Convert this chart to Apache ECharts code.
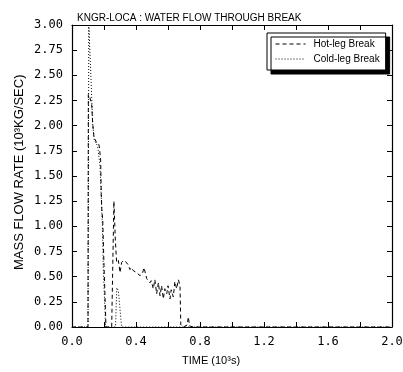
<!DOCTYPE html>
<html>
<head>
<meta charset="utf-8">
<script src="https://cdn.jsdelivr.net/npm/echarts@6/dist/echarts.min.js"></script>
<style>
  html, body { margin: 0; padding: 0; background: #fff; }
  #chart { width: 403px; height: 372px; }
</style>
</head>
<body>
<div id="chart"></div>
<script>
// KNGR-LOCA : water flow through break
const hotTime = [0, 0.1, 0.102, 0.112, 0.123, 0.129, 0.137, 0.15, 0.165, 0.171, 0.179, 0.183, 0.187, 0.192, 0.2, 0.2125,
  0.248, 0.262, 0.271, 0.279, 0.29, 0.3, 0.31, 0.321, 0.335, 0.35, 0.3625, 0.37, 0.383, 0.404, 0.425, 0.44, 0.45,
  0.467, 0.475, 0.4875, 0.495, 0.508, 0.518, 0.529, 0.54, 0.55, 0.56, 0.571, 0.58, 0.592, 0.6, 0.6125, 0.62, 0.633,
  0.643, 0.654, 0.665, 0.675, 0.68, 0.696, 0.72, 0.727, 0.735, 0.758, 2.0];
const hotFlow = [0, 0, 2.31, 2.28, 2.21, 2.03, 1.89, 1.84, 1.83, 1.79, 1.66, 1.32, 1.14, 1.07, 0.61, 0,
  0, 1.25, 0.86, 0.64, 0.66, 0.54, 0.64, 0.66, 0.65, 0.62, 0.57, 0.59, 0.56, 0.54, 0.51, 0.53, 0.59,
  0.48, 0.49, 0.44, 0.46, 0.38, 0.47, 0.33, 0.44, 0.31, 0.41, 0.28, 0.38, 0.33, 0.41, 0.28, 0.37, 0.30,
  0.45, 0.38, 0.47, 0.41, 0.02, 0, 0.02, 0.1, 0.01, 0, 0];

const coldTime = [0, 0.1, 0.105, 0.113, 0.118, 0.125, 0.13, 0.14, 0.16, 0.175, 0.185, 0.19, 0.195, 0.21,
  0.272, 0.28, 0.29, 0.31, 2.0];
const coldFlow = [0, 0, 3.0, 3.0, 2.5, 2.2, 2.0, 1.85, 1.8, 1.6, 1.2, 1.0, 0.6, 0,
  0, 0.39, 0.36, 0, 0];

const yTicks = { min: 0, max: 3, step: 0.25 };
const xTicks = { min: 0, max: 2, step: 0.2 };

const chart = echarts.init(document.getElementById('chart'));

const sans = "'Liberation Sans', Arial, sans-serif";
const mono = "'DejaVu Sans Mono', monospace";

const axisBase = {
  axisLine: { show: true, onZero: false, lineStyle: { color: '#000', width: 1.2 } },
  axisTick: { show: true, inside: true, length: 5, lineStyle: { color: '#000', width: 1 } },
  splitLine: { show: false }
};

chart.setOption({
  animation: false,
  backgroundColor: '#fff',
  title: {
    text: 'KNGR-LOCA : WATER FLOW THROUGH BREAK',
    left: 72, top: 8,
    textStyle: { fontFamily: sans, fontSize: 10, fontWeight: 'normal', color: '#000' }
  },
  grid: { left: 72, right: 11, top: 25, bottom: 45, outerBoundsMode: 'none' },
  legend: {
    orient: 'vertical',
    left: 267, top: 33,
    padding: [6, 6, 6, 8],
    itemGap: 5,
    itemWidth: 30, itemHeight: 10,
    itemStyle: { opacity: 0 },
    lineStyle: { width: 1 },
    backgroundColor: '#fff',
    borderColor: '#000', borderWidth: 1,
    shadowColor: '#000', shadowBlur: 0, shadowOffsetX: 4, shadowOffsetY: 4,
    textStyle: { fontFamily: sans, fontSize: 10, color: '#000', padding: [0, 0, 0, 3] },
    data: ['Hot-leg Break', 'Cold-leg Break']
  },
  xAxis: [
    Object.assign({}, axisBase, {
      type: 'value', min: xTicks.min, max: xTicks.max, interval: xTicks.step,
      axisLabel: {
        interval: 1, margin: 9, color: '#000', fontFamily: mono, fontSize: 12,
        formatter: v => (Math.round(v * 10) % 4 === 0 ? v.toFixed(1) : '')
      }
    }),
    Object.assign({}, axisBase, {
      type: 'value', position: 'top', min: xTicks.min, max: xTicks.max, interval: xTicks.step,
      axisLabel: { show: false }
    })
  ],
  yAxis: [
    Object.assign({}, axisBase, {
      type: 'value', min: yTicks.min, max: yTicks.max, interval: yTicks.step,
      axisLabel: { margin: 9, color: '#000', fontFamily: mono, fontSize: 12, formatter: v => v.toFixed(2) }
    }),
    Object.assign({}, axisBase, {
      type: 'value', position: 'right', min: yTicks.min, max: yTicks.max, interval: yTicks.step,
      axisLabel: { show: false }
    })
  ],
  graphic: [
    {
      type: 'text', left: 182, top: 355,
      style: { text: 'TIME (10³s)', fontFamily: sans, fontSize: 11, fill: '#000' }
    },
    {
      type: 'text', x: 13, y: 270, rotation: Math.PI / 2,
      style: { text: 'MASS FLOW RATE (10³KG/SEC)', fontFamily: sans, fontSize: 13, fill: '#000' }
    }
  ],
  series: [
    {
      name: 'Hot-leg Break', type: 'line', symbol: 'none', clip: true,
      lineStyle: { color: '#000', width: 1, type: [4, 3] },
      itemStyle: { color: '#000' },
      data: hotTime.map((t, i) => [t, hotFlow[i]])
    },
    {
      name: 'Cold-leg Break', type: 'line', symbol: 'none', clip: true,
      lineStyle: { color: '#000', width: 1, type: [1, 2] },
      itemStyle: { color: '#000' },
      data: coldTime.map((t, i) => [t, coldFlow[i]])
    }
  ]
});
</script>
</body>
</html>
